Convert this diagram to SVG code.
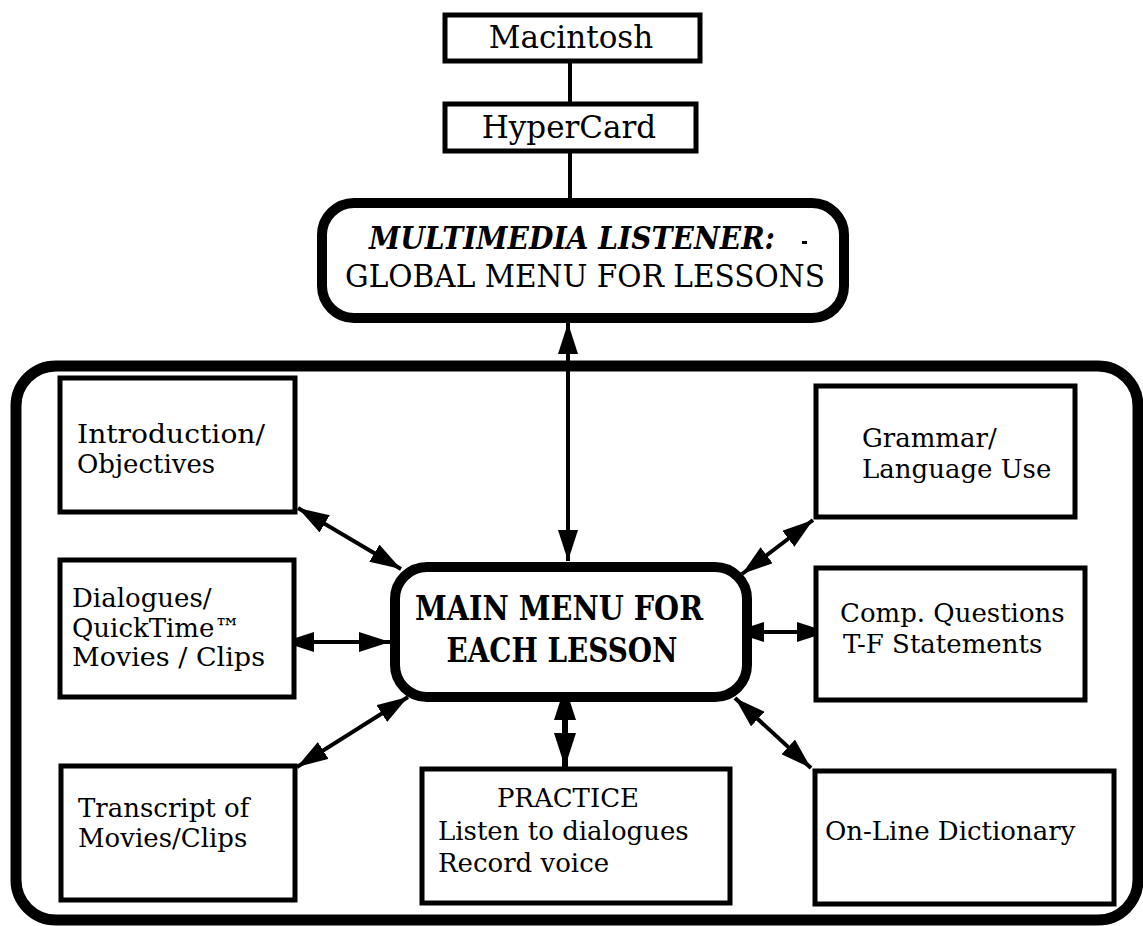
<svg xmlns="http://www.w3.org/2000/svg" width="1143" height="926" viewBox="0 0 1143 926">
<defs>
<style>
text{font-family:"DejaVu Serif","Liberation Serif",serif;fill:#000;font-size:26px}
.box{fill:#fff;stroke:#000;stroke-width:5}
.big{fill:#fff;stroke:#000;stroke-width:10}
.outer{fill:none;stroke:#000;stroke-width:11}
.ln{stroke:#000;stroke-width:4;fill:none}
.arr{stroke:#000;stroke-width:4;fill:none;marker-start:url(#ah);marker-end:url(#ah)}
.arr2{stroke:#000;stroke-width:6;fill:none;marker-start:url(#ah2);marker-end:url(#ah2)}
.t31{font-size:31px}
.b{font-weight:bold;font-size:33px}
</style>
<marker id="ah" viewBox="0 0 31 20" refX="31" refY="10" markerWidth="31" markerHeight="20" markerUnits="userSpaceOnUse" orient="auto-start-reverse"><path d="M0,0 L31,10 L0,20 z" fill="#000"/></marker>
<marker id="ah2" viewBox="0 0 34 22" refX="34" refY="11" markerWidth="34" markerHeight="22" markerUnits="userSpaceOnUse" orient="auto-start-reverse"><path d="M0,0 L34,11 L0,22 z" fill="#000"/></marker>
</defs>
<rect width="1143" height="926" fill="#fff"/>
<rect class="outer" x="16" y="366" width="1122" height="554" rx="40"/>
<g id="connectors">
<line class="ln" x1="570" y1="63" x2="570" y2="102"/>
<line class="ln" x1="570" y1="153" x2="570" y2="200"/>
<line class="arr" x1="568" y1="323" x2="568" y2="561"/>
<line class="arr" x1="298" y1="508" x2="401" y2="569"/>
<line class="arr" x1="283" y1="642" x2="390" y2="642"/>
<line class="arr" x1="297" y1="767" x2="408" y2="697"/>
<line class="arr2" x1="565" y1="686" x2="565" y2="767"/>
<line class="arr" x1="813" y1="520" x2="742" y2="574"/>
<line class="arr" x1="733" y1="632" x2="828" y2="632"/>
<line class="arr" x1="735" y1="698" x2="811" y2="768"/>
</g>
<g id="macintosh">
<rect class="box" x="445" y="15" width="255" height="46"/>
<text class="t31" x="571" y="48" text-anchor="middle">Macintosh</text>
</g>
<g id="hypercard">
<rect class="box" x="445" y="104" width="251" height="47"/>
<text class="t31" x="569" y="138" text-anchor="middle">HyperCard</text>
</g>
<g id="global">
<rect class="big" x="322" y="203" width="522" height="115" rx="32"/>
<text class="t31" x="369" y="249" font-style="italic" font-weight="bold" textLength="406" lengthAdjust="spacingAndGlyphs">MULTIMEDIA LISTENER:</text>
<rect x="802" y="241" width="5" height="3" fill="#000"/>
<text class="t31" x="585" y="287" text-anchor="middle" textLength="480" lengthAdjust="spacingAndGlyphs">GLOBAL MENU FOR LESSONS</text>
</g>
<g id="main">
<rect class="big" x="395" y="567" width="352" height="130" rx="32"/>
<text class="b" x="559" y="620" text-anchor="middle" textLength="288" lengthAdjust="spacingAndGlyphs">MAIN MENU FOR</text>
<text class="b" x="562" y="662" text-anchor="middle" textLength="231" lengthAdjust="spacingAndGlyphs">EACH LESSON</text>
</g>
<g id="intro">
<rect class="box" x="60" y="378" width="235" height="134"/>
<text x="77" y="443" textLength="188" lengthAdjust="spacingAndGlyphs">Introduction/</text>
<text x="77" y="473">Objectives</text>
</g>
<g id="dialogues">
<rect class="box" x="60" y="560" width="234" height="137"/>
<text x="72" y="607">Dialogues/</text>
<text x="72" y="637">QuickTime™</text>
<text x="72" y="666" textLength="193" lengthAdjust="spacingAndGlyphs">Movies / Clips</text>
</g>
<g id="transcript">
<rect class="box" x="61" y="766" width="234" height="134"/>
<text x="78" y="817">Transcript of</text>
<text x="78" y="847">Movies/Clips</text>
</g>
<g id="practice">
<rect class="box" x="422" y="769" width="308" height="134"/>
<text x="568" y="807" text-anchor="middle">PRACTICE</text>
<text x="438" y="840">Listen to dialogues</text>
<text x="438" y="872">Record voice</text>
</g>
<g id="grammar">
<rect class="box" x="816" y="386" width="259" height="131"/>
<text x="862" y="447">Grammar/</text>
<text x="862" y="478">Language Use</text>
</g>
<g id="comp">
<rect class="box" x="816" y="568" width="269" height="132"/>
<text x="840" y="622">Comp. Questions</text>
<text x="843" y="653">T-F Statements</text>
</g>
<g id="dictionary">
<rect class="box" x="815" y="771" width="299" height="133"/>
<text x="825" y="840">On-Line Dictionary</text>
</g>
</svg>
